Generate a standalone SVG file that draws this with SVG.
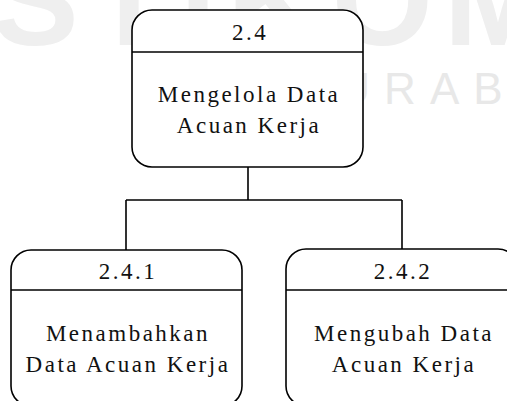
<svg xmlns="http://www.w3.org/2000/svg" width="507" height="401" viewBox="0 0 507 401">
<style>
.wm1{font-family:"Liberation Sans",Arial,sans-serif;font-weight:bold;font-size:130px;fill:#efefef}
.wm2{font-family:"Liberation Sans",Arial,sans-serif;font-size:44px;fill:#e8e8e8}
.box{fill:#ffffff;stroke:#000;stroke-width:1.6}
.div{stroke:#000;stroke-width:1.6}
.t{font-family:"Liberation Serif","Times New Roman",serif;font-size:23px;fill:#111;text-anchor:middle;letter-spacing:2.5px}
.con{fill:none;stroke:#000;stroke-width:1.6}
</style>
<rect width="507" height="401" fill="#ffffff"/>
<g id="watermark">
<text class="wm1" x="-8" y="45" textLength="560" lengthAdjust="spacing">STIKOM</text>
<text class="wm2" x="295" y="104" letter-spacing="14">SURABAYA</text>
</g>
<g id="connectors">
<path class="con" d="M248 167 V200 M126 200 H402 M126 200 V250 M402 200 V249"/>
</g>
<g id="node-2-4">
<rect class="box" x="132" y="10" width="231" height="157" rx="20" ry="20"/>
<line class="div" x1="132" y1="52" x2="363" y2="52"/>
<text class="t" x="250" y="40">2.4</text>
<text class="t" x="249" y="102">Mengelola Data</text>
<text class="t" x="249" y="133">Acuan Kerja</text>
</g>
<g id="node-2-4-1">
<rect class="box" x="11" y="250" width="231" height="156" rx="20" ry="20"/>
<line class="div" x1="11" y1="290" x2="242" y2="290"/>
<text class="t" x="128" y="279">2.4.1</text>
<text class="t" x="128" y="341">Menambahkan</text>
<text class="t" x="128" y="372">Data Acuan Kerja</text>
</g>
<g id="node-2-4-2">
<rect class="box" x="286" y="249" width="232" height="157" rx="20" ry="20"/>
<line class="div" x1="286" y1="290" x2="518" y2="290"/>
<text class="t" x="403" y="279">2.4.2</text>
<text class="t" x="404" y="341">Mengubah Data</text>
<text class="t" x="404" y="372">Acuan Kerja</text>
</g>
</svg>
